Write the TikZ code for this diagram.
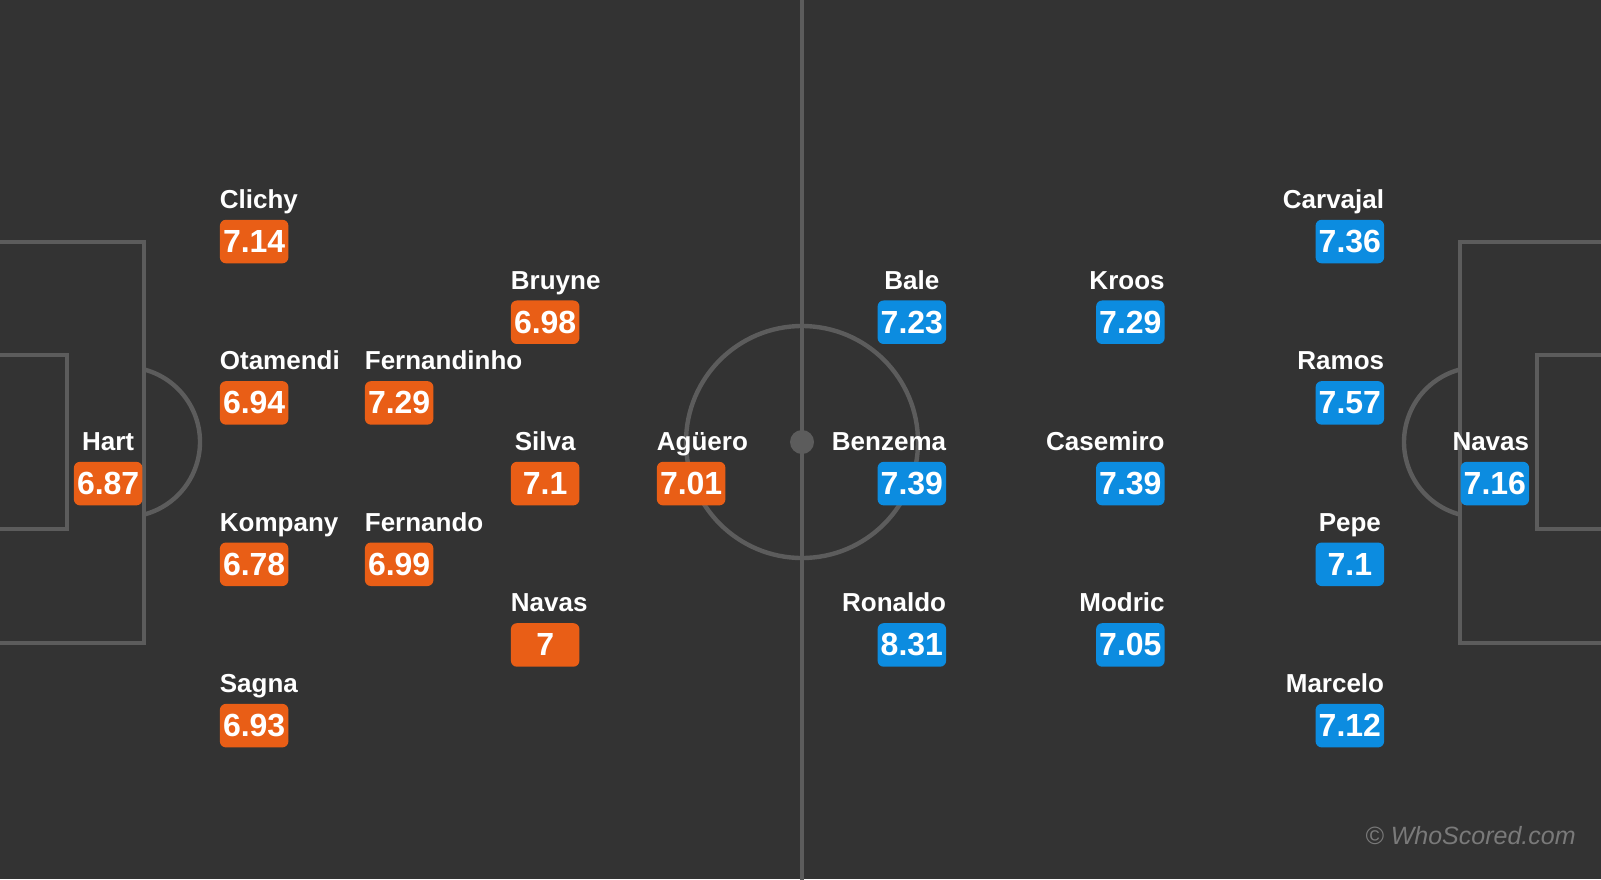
\documentclass[tikz,border=0pt]{standalone}
\usepackage{fontspec}
\setmainfont{Liberation Sans}
\definecolor{bg}{HTML}{333333}
\definecolor{pline}{HTML}{5C5C5C}
\definecolor{homec}{HTML}{E95E16}
\definecolor{awayc}{HTML}{0C8CE0}
\definecolor{wmark}{HTML}{7A7A7A}
\tikzset{
  pitch/.style={draw=pline, line width=2.2pt},
  scorebox/.style={rectangle, rounded corners=3pt, minimum width=34.25pt, minimum height=21.75pt, inner sep=0pt, text=white, font=\bfseries\fontsize{16}{16}\selectfont},
  pname/.style={text=white, font=\bfseries\fontsize{13}{13}\selectfont, inner xsep=0pt, inner ysep=0pt, minimum width=34.25pt}
}
\newcommand\homeplayer[5]{%
  \pgfmathsetmacro\ytop{219.4+80.68*#5}%
  \node[scorebox, fill=homec, anchor=north west] (#1-box) at (#4,\ytop) {#3};
  \node[pname, anchor=base west] (#1-name) at (#4,\ytop-11) {#2};
}
\newcommand\awayplayer[5]{%
  \pgfmathsetmacro\ytop{219.4+80.68*#5}%
  \node[scorebox, fill=awayc, anchor=north east] (#1-box) at (#4,\ytop) {#3};
  \node[pname, anchor=base east] (#1-name) at (#4,\ytop-11) {#2};
}
\begin{document}
\begin{tikzpicture}[x=0.5pt,y=-0.5pt]
\useasboundingbox (0,0) rectangle (1601,879);
\fill[bg] (0,0) rectangle (1601,879);
\clip (0,0) rectangle (1601,879);
% pitch markings
\draw[pitch] (802,-5) -- (802,884);
\draw[pitch] (802,442) circle[radius=116];
\fill[pline] (802,442) circle[radius=12];
\draw[pitch] (-5,241.7) -| (144,643) -- (-5,643);
\draw[pitch] (-5,355) -| (67,529) -- (-5,529);
\draw[pitch] (125,442) ++(-75.3:75) arc[start angle=-75.3, end angle=75.3, radius=75];
\draw[pitch] (1606,241.7) -| (1460,643) -- (1606,643);
\draw[pitch] (1606,355) -| (1537,529) -- (1606,529);
\draw[pitch] (1479,442) ++(104.7:75) arc[start angle=104.7, end angle=255.3, radius=75];
% home team
\homeplayer{hart}{Hart}{6.87}{73.5}{3}
\homeplayer{clichy}{Clichy}{7.14}{219.5}{0}
\homeplayer{otamendi}{Otamendi}{6.94}{219.5}{2}
\homeplayer{kompany}{Kompany}{6.78}{219.5}{4}
\homeplayer{sagna}{Sagna}{6.93}{219.5}{6}
\homeplayer{fernandinho}{Fernandinho}{7.29}{364.5}{2}
\homeplayer{fernando}{Fernando}{6.99}{364.5}{4}
\homeplayer{bruyne}{Bruyne}{6.98}{510.5}{1}
\homeplayer{silva}{Silva}{7.1}{510.5}{3}
\homeplayer{navash}{Navas}{7}{510.5}{5}
\homeplayer{aguero}{Agüero}{7.01}{656.5}{3}
% away team
\awayplayer{navasa}{Navas}{7.16}{1529.5}{3}
\awayplayer{carvajal}{Carvajal}{7.36}{1384.5}{0}
\awayplayer{ramos}{Ramos}{7.57}{1384.5}{2}
\awayplayer{pepe}{Pepe}{7.1}{1384.5}{4}
\awayplayer{marcelo}{Marcelo}{7.12}{1384.5}{6}
\awayplayer{kroos}{Kroos}{7.29}{1165}{1}
\awayplayer{casemiro}{Casemiro}{7.39}{1165}{3}
\awayplayer{modric}{Modric}{7.05}{1165}{5}
\awayplayer{bale}{Bale}{7.23}{946.5}{1}
\awayplayer{benzema}{Benzema}{7.39}{946.5}{3}
\awayplayer{ronaldo}{Ronaldo}{8.31}{946.5}{5}
% watermark
\node[font=\itshape\fontsize{12.5}{12.5}\selectfont, text=wmark, anchor=base east, inner sep=0pt] (wm) at (1576,844) {© WhoScored.com};
\end{tikzpicture}
\end{document}
